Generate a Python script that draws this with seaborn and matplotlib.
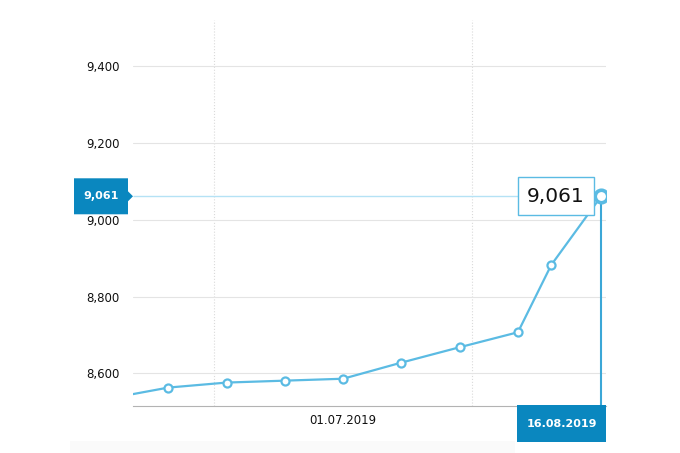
import matplotlib
matplotlib.use("Agg")
import matplotlib.pyplot as plt
import matplotlib.dates as mdates
from matplotlib.patches import Polygon, Rectangle
from matplotlib.transforms import IdentityTransform
import pandas as pd
import seaborn as sns

# Données
dates = ['2019-06-18 12:00', '2019-06-25 12:00', '2019-07-02 12:00', '2019-07-09 12:00',
         '2019-07-16 12:00', '2019-07-23 12:00', '2019-07-30 12:00', '2019-08-06 12:00',
         '2019-08-10 12:00', '2019-08-16 12:00']
values = [8535, 8563, 8576, 8581, 8586, 8628, 8668, 8707, 8882, 9061]
y_ticks = [8600, 8800, 9000, 9200, 9400]
month_ticks = ['2019-07-01', '2019-08-01']
month_label_pos = ['2019-07-16 12:00']
month_labels = ['01.07.2019']
last_date_label = '16.08.2019'

df = pd.DataFrame({'date': pd.to_datetime(dates), 'value': values})

LINE = '#5bbbe3'
DARK = '#0a87bf'

sns.set_style('white')
plt.rcParams['font.family'] = ['DejaVu Sans']

fig = plt.figure(figsize=(6.8, 4.53), dpi=100)
ax = fig.add_axes([133 / 680, 47 / 453, 473 / 680, 386 / 453])

sns.lineplot(data=df, x='date', y='value', ax=ax, color=LINE, linewidth=1.6,
             marker='o', markersize=5.8, markerfacecolor='white',
             markeredgecolor=LINE, markeredgewidth=1.6, zorder=4)

ax.set_xlim(pd.Timestamp('2019-06-21 06:00'), pd.Timestamp('2019-08-17 02:00'))
ax.set_ylim(8515, 9520)

# Axes et grilles
ax.set_yticks(y_ticks)
ax.set_yticklabels([f"{v:,}" for v in y_ticks])
ax.set_xticks(pd.to_datetime(month_ticks))
ax.set_xticklabels(['' for _ in month_ticks])
ax.set_xticks(pd.to_datetime(month_label_pos), minor=True)
ax.set_xticklabels(month_labels, minor=True)
ax.tick_params(axis='y', length=0, pad=9.5, labelsize=8.5, labelcolor='#111111')
ax.tick_params(axis='x', which='major', length=4, width=0.8, color='#aaaaaa', direction='out')
ax.tick_params(axis='x', which='minor', length=0, pad=6, labelsize=8.5, labelcolor='#111111')
ax.grid(axis='y', color='#e4e4e4', linewidth=0.8)
ax.grid(axis='x', which='major', color='#dadada', linewidth=0.8, linestyle=':')
ax.set_xlabel('')
ax.set_ylabel('')
for side in ['left', 'top', 'right']:
    ax.spines[side].set_visible(False)
ax.spines['bottom'].set_color('#b3b3b3')
ax.spines['bottom'].set_linewidth(0.8)

last_x = df['date'].iloc[-1]
last_y = df['value'].iloc[-1]

# Lignes du curseur
ax.hlines(last_y, ax.get_xlim()[0], last_x, color='#b5e2f5', linewidth=1, zorder=2)
ax.vlines(last_x, ax.get_ylim()[0], last_y, color='#3ba7d7', linewidth=1.5, zorder=3)
ax.plot([last_x], [last_y], marker='o', markersize=9, markerfacecolor='white',
        markeredgecolor=LINE, markeredgewidth=2.6, zorder=6)

fig.canvas.draw()
px, py = ax.transData.transform((mdates.date2num(last_x), last_y))
ident = IdentityTransform()

# Étiquette de l'axe Y
fig.add_artist(Polygon([(74, py - 18), (128, py - 18), (128, py - 5), (133, py),
                        (128, py + 5), (128, py + 18), (74, py + 18)],
                       closed=True, facecolor=DARK, edgecolor='none', transform=ident))
fig.text(101, py, f"{last_y:,}", transform=ident, ha='center', va='center',
         color='white', fontsize=8, fontweight='bold')

# Étiquette de date
fig.add_artist(Rectangle((517, 11), 89, 37, facecolor=DARK, edgecolor='none', transform=ident))
fig.text(561.5, 29, last_date_label, transform=ident, ha='center', va='center',
         color='white', fontsize=8, fontweight='bold')

# Bulle de valeur
fig.add_artist(Rectangle((518, py - 19), 76, 38, facecolor='white', edgecolor=LINE,
                         linewidth=1, transform=ident, zorder=5))
fig.text(556, py, f"{last_y:,}", transform=ident, ha='center', va='center',
         color='#111111', fontsize=14.5, zorder=6)

# Ombre légère en bas
fig.add_artist(Rectangle((70, 0), 445, 12, facecolor='#fafafa', edgecolor='none',
                         transform=ident, zorder=0))

fig.savefig('out.png', dpi=100)
